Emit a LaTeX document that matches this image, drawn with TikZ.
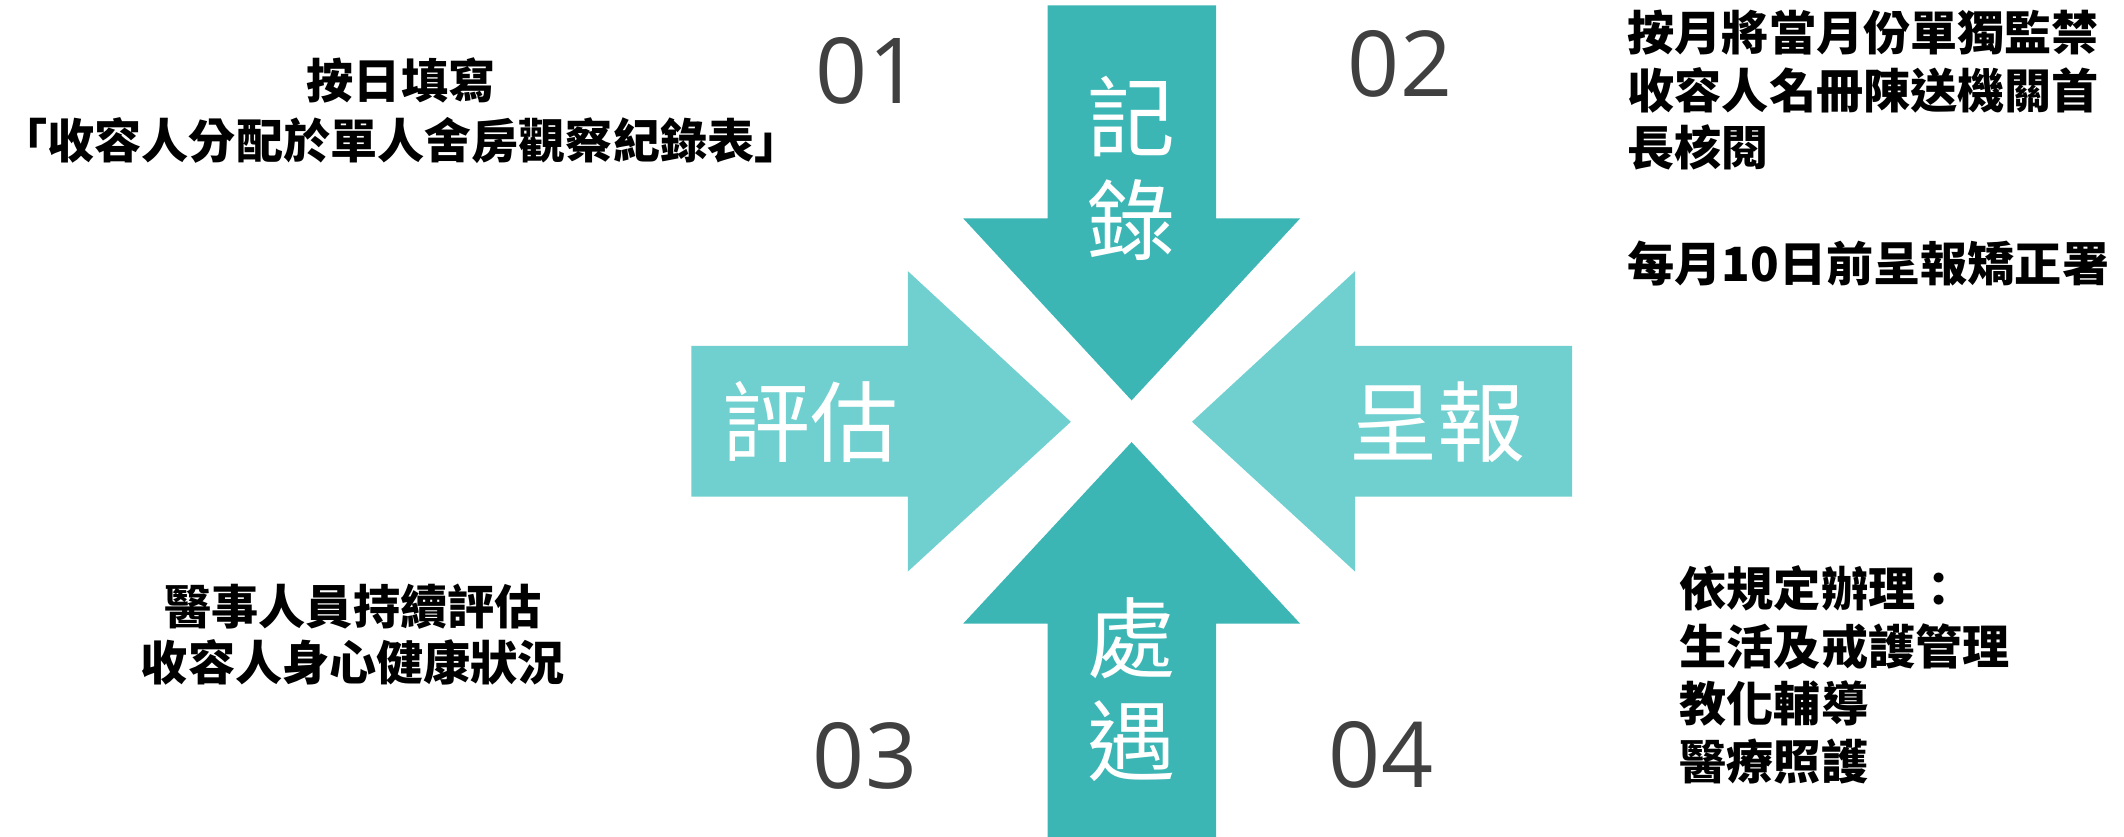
\documentclass[tikz,border=0pt]{standalone}
\usepackage{fontspec}
\setmainfont{Open Sans}
\newfontfamily\cjk{Noto Sans CJK TC}
\definecolor{tealdark}{RGB}{60,181,181}
\definecolor{teallight}{RGB}{112,208,208}
\definecolor{numgray}{RGB}{64,64,64}

\begin{document}
\begin{tikzpicture}[
  x=0.01cm, y=-0.01cm,
  darrow/.style={fill=tealdark},
  larrow/.style={fill=teallight},
  arrowlabel/.style={text=white, inner sep=0pt, align=center, font=\cjk\fontsize{25pt}{29.3pt}\selectfont},
  stepnum/.style={text=numgray, inner sep=0pt, font=\fontsize{25.9pt}{30pt}\selectfont},
  note/.style={inner sep=0pt, font=\cjk\bfseries\fontsize{13.4pt}{#1}\selectfont},
  note/.default={16.4pt}
]
\useasboundingbox (0,0) rectangle (2124,837);

% the four arrows, pointing to the middle
\fill[darrow] (1047.6,5.3) -- (1216.1,5.3) -- (1216.1,218.4) -- (1300.1,218.4)
  -- (1131.6,400.4) -- (963.2,218.4) -- (1047.6,218.4) -- cycle;
\fill[darrow] (1047.6,837) -- (1216.1,837) -- (1216.1,623.6) -- (1300.1,623.6)
  -- (1131.6,442.1) -- (963.2,623.6) -- (1047.6,623.6) -- cycle;
\fill[larrow] (691.3,346) -- (907.9,346) -- (907.9,271.2) -- (1070.8,421.8)
  -- (907.9,571.5) -- (907.9,496.6) -- (691.3,496.6) -- cycle;
\fill[larrow] (1572,346) -- (1355,346) -- (1355,271.2) -- (1192,421.8)
  -- (1355,571.5) -- (1355,496.6) -- (1572,496.6) -- cycle;

\node[arrowlabel] (record) at (1131,168.5) {記\\錄};
\node[arrowlabel] (handle) at (1131,690) {處\\遇};
\node[arrowlabel] (assess) at (810,422) {評估};
\node[arrowlabel] (report) at (1437,422) {呈報};

\node[stepnum] (n01) at (868,71) {01};
\node[stepnum] (n02) at (1400,64) {02};
\node[stepnum] (n03) at (865,756) {03};
\node[stepnum] (n04) at (1381,755) {04};

\node[note=17.1pt, align=center] (daily) at (401,111)
  {按日填寫\\「收容人分配於單人舍房觀察紀錄表」};
\node[note=15.9pt, align=center] (medic) at (353,635)
  {醫事人員持續評估\\收容人身心健康狀況};
\node[note, align=left, anchor=west] (monthly) at (1627,148)
  {按月將當月份單獨監禁\\收容人名冊陳送機關首\\長核閱\\[16.4pt]每月10日前呈報矯正署};
\node[note, align=left, anchor=west] (rules) at (1679,675)
  {依規定辦理：\\生活及戒護管理\\教化輔導\\醫療照護};
\end{tikzpicture}
\end{document}
